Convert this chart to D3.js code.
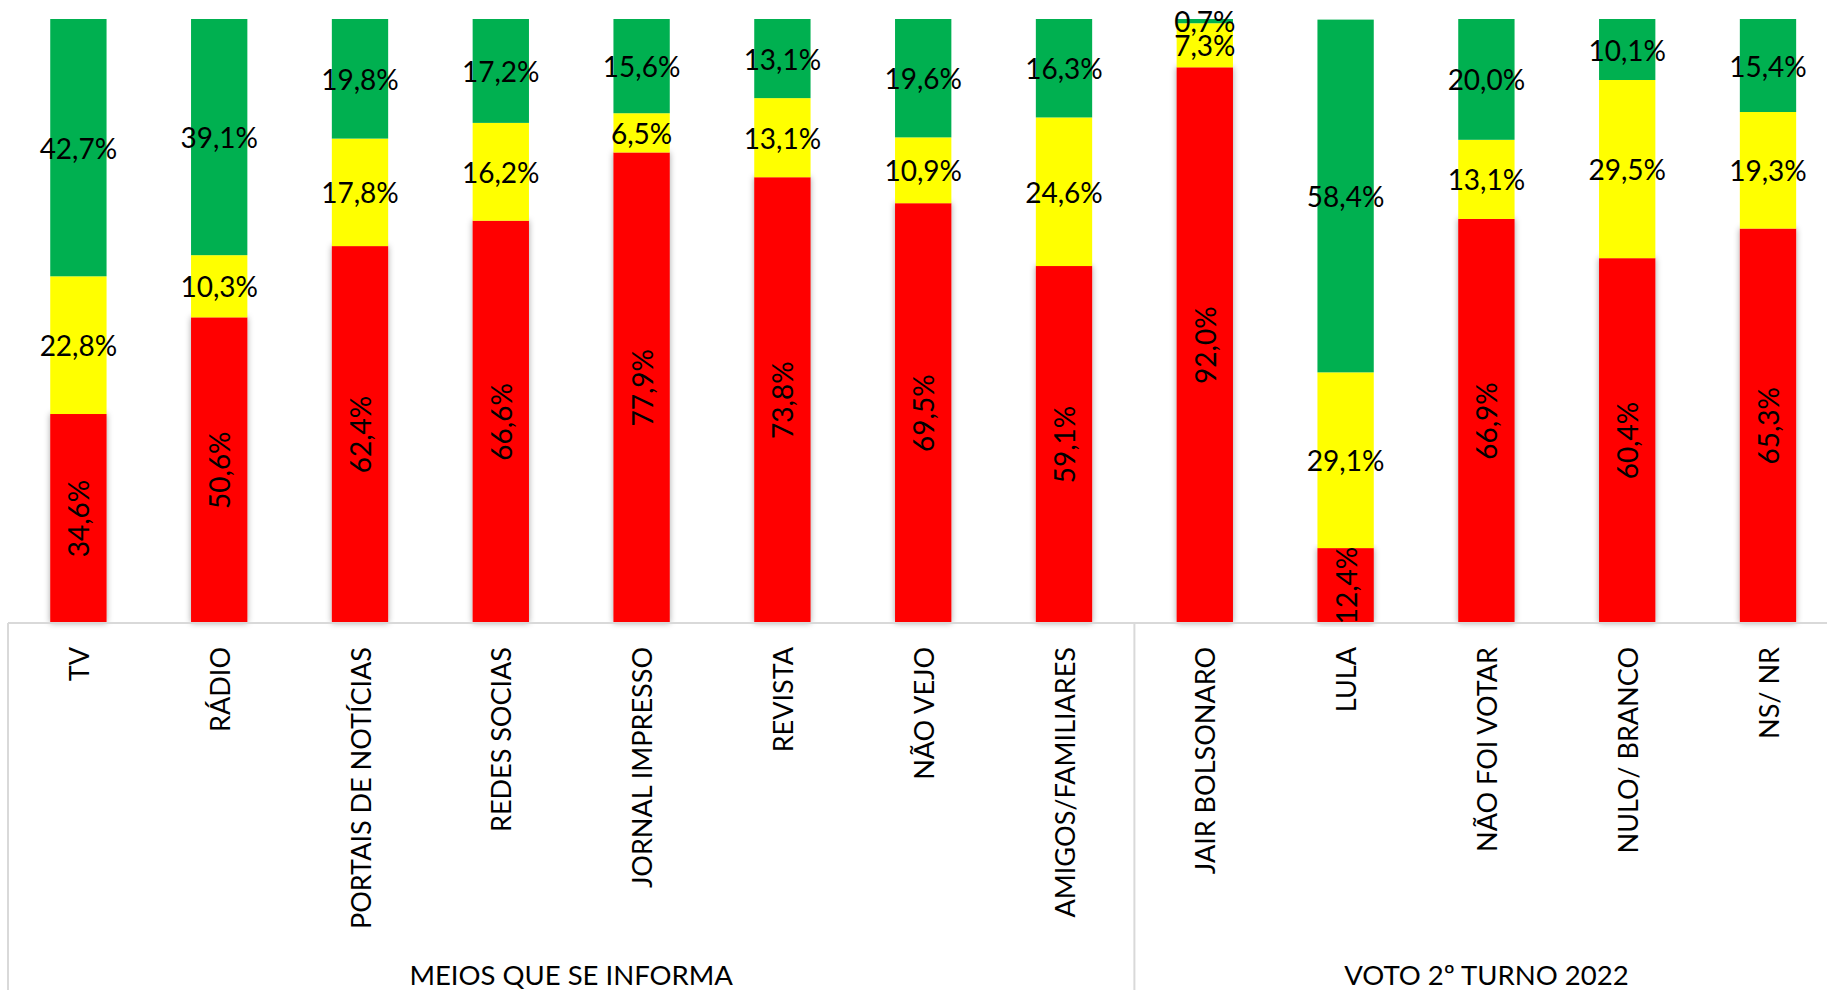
<!DOCTYPE html>
<html>
<head>
<meta charset="utf-8">
<script src="https://cdn.jsdelivr.net/npm/d3@7"></script>
<style>
    body { margin: 0; background: #fff; }
    svg { display: block; font-family: Lato, "Open Sans", sans-serif; }
    .seg-label { font-size: 28px; fill: #000; }
    .cat-label { font-size: 27px; fill: #000; }
    .group-label { font-size: 27.5px; fill: #000; }
</style>
</head>
<body>
<div id="chart"></div>
<script>
// categorias e valores (%)
const categories = ["TV", "RÁDIO", "PORTAIS DE NOTÍCIAS", "REDES SOCIAS", "JORNAL IMPRESSO",
    "REVISTA", "NÃO VEJO", "AMIGOS/FAMILIARES", "JAIR BOLSONARO", "LULA",
    "NÃO FOI VOTAR", "NULO/ BRANCO", "NS/ NR"];
const redValues    = [34.6, 50.6, 62.4, 66.6, 77.9, 73.8, 69.5, 59.1, 92.0, 12.4, 66.9, 60.4, 65.3];
const yellowValues = [22.8, 10.3, 17.8, 16.2, 6.5, 13.1, 10.9, 24.6, 7.3, 29.1, 13.1, 29.5, 19.3];
const greenValues  = [42.7, 39.1, 19.8, 17.2, 15.6, 13.1, 19.6, 16.3, 0.7, 58.4, 20.0, 10.1, 15.4];
const groups = [
    { name: "MEIOS QUE SE INFORMA", from: 0, to: 8 },
    { name: "VOTO 2º TURNO 2022", from: 8, to: 13 }
];

const width = 1827, height = 990;
const leftX = 8, step = 140.8;
const topY = 19, axisY = 623;

const svg = d3.select("#chart").append("svg")
    .attr("width", width)
    .attr("height", height);

const defs = svg.append("defs");
const shadow = defs.append("filter").attr("id", "shadow")
    .attr("x", "-30%").attr("y", "-5%").attr("width", "160%").attr("height", "110%");
shadow.append("feDropShadow")
    .attr("dx", 0).attr("dy", 0).attr("stdDeviation", 3)
    .attr("flood-color", "#000").attr("flood-opacity", 0.35);

const x = d3.scaleBand()
    .domain(categories)
    .range([leftX, leftX + step * categories.length])
    .paddingInner(0.6)
    .paddingOuter(0.3);

const y = d3.scaleLinear().domain([0, 100]).range([axisY, topY]);

// montar pilhas
const rows = categories.map((c, i) => ({ cat: c, red: redValues[i], yellow: yellowValues[i], green: greenValues[i] }));
const stack = d3.stack().keys(["red", "yellow", "green"])(rows);
const colors = { red: "#FF0000", yellow: "#FFFF00", green: "#00B050" };

const layers = svg.selectAll("g.layer")
    .data(stack)
    .enter().append("g")
    .attr("class", "layer")
    .attr("fill", d => colors[d.key]);

layers.selectAll("rect")
    .data(d => d.map(p => ({ key: d.key, p })))
    .enter().append("rect")
    .attr("x", d => x(d.p.data.cat))
    .attr("width", x.bandwidth())
    .attr("y", d => y(Math.min(100, d.p[1])))
    .attr("height", d => y(d.p[0]) - y(Math.min(100, d.p[1])))
    .attr("filter", d => d.key === "red" ? "url(#shadow)" : null);

// eixo
svg.append("line")
    .attr("x1", leftX).attr("x2", width)
    .attr("y1", axisY).attr("y2", axisY)
    .attr("stroke", "#d9d9d9").attr("stroke-width", 2);

// separadores de grupo
[0, 8].forEach(i => {
    svg.append("line")
        .attr("x1", leftX + step * i).attr("x2", leftX + step * i)
        .attr("y1", axisY).attr("y2", height)
        .attr("stroke", "#d9d9d9").attr("stroke-width", 2);
});

// rótulos dos segmentos
const fmt = v => v.toFixed(1).replace(".", ",") + "%";
stack.forEach(layer => {
    layer.forEach(p => {
        const cx = x(p.data.cat) + x.bandwidth() / 2;
        const cy = (y(p[0]) + y(Math.min(100, p[1]))) / 2;
        const t = svg.append("text")
            .attr("class", "seg-label")
            .attr("text-anchor", "middle")
            .attr("dominant-baseline", "central")
            .text(fmt(p[1] - p[0]));
        if (layer.key === "red") {
            t.attr("transform", `translate(${cx},${cy}) rotate(-90)`);
        } else {
            t.attr("x", cx).attr("y", cy);
        }
    });
});

// rótulos das categorias
svg.selectAll("text.cat-label")
    .data(categories)
    .enter().append("text")
    .attr("class", "cat-label")
    .attr("text-anchor", "end")
    .attr("dominant-baseline", "central")
    .attr("transform", d => `translate(${x(d) + x.bandwidth() / 2},647) rotate(-90)`)
    .text(d => d);

// rótulos dos grupos
svg.selectAll("text.group-label")
    .data(groups)
    .enter().append("text")
    .attr("class", "group-label")
    .attr("text-anchor", "middle")
    .attr("x", d => leftX + step * (d.from + d.to) / 2)
    .attr("y", 985)
    .text(d => d.name);
</script>
</body>
</html>
